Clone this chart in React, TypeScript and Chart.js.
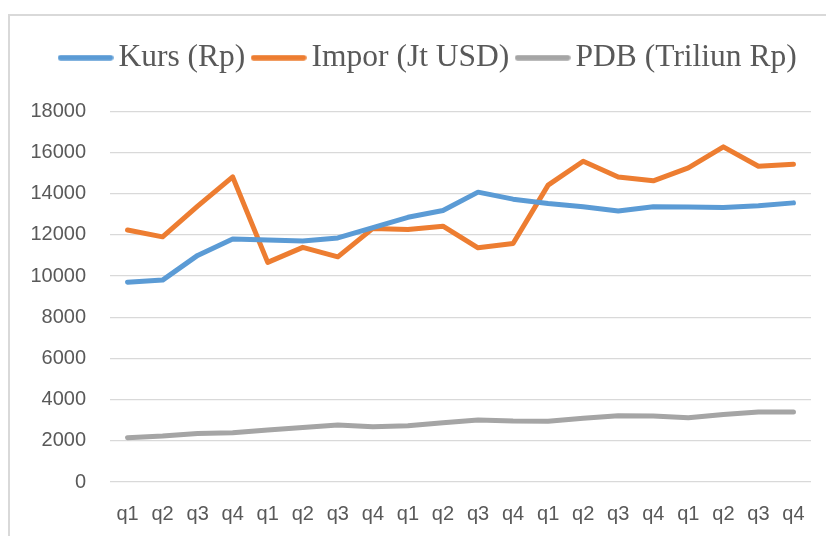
import React, { useEffect, useRef } from 'react';
import { Chart, registerables } from 'chart.js';

Chart.register(...registerables);

const categories = [
  'q1', 'q2', 'q3', 'q4',
  'q1', 'q2', 'q3', 'q4',
  'q1', 'q2', 'q3', 'q4',
  'q1', 'q2', 'q3', 'q4',
  'q1', 'q2', 'q3', 'q4',
];

const kursValues = [
  9700, 9800, 11000, 11800, 11750, 11700, 11850, 12350, 12850, 13180,
  14070, 13730, 13520, 13360, 13160, 13360, 13350, 13330, 13410, 13550,
];

const imporValues = [
  12230, 11900, 13390, 14810, 10660, 11390, 10930, 12310, 12260, 12420,
  11370, 11580, 14410, 15570, 14810, 14620, 15250, 16270, 15330, 15430,
];

const pdbValues = [
  2150, 2230, 2360, 2390, 2520, 2650, 2770, 2680, 2730, 2880,
  3010, 2960, 2950, 3090, 3220, 3200, 3120, 3280, 3400, 3400,
];

const seriesNames = ['Kurs (Rp)', 'Impor (Jt USD)', 'PDB (Triliun Rp)'];
const seriesColors = ['#5B9BD5', '#ED7D31', '#A5A5A5'];

const yMin = 0;
const yMax = 18000;
const yStep = 2000;

const textColor = '#595959';
const gridColor = '#d9d9d9';

function makeLegendLine(color: string): HTMLCanvasElement {
  const c = document.createElement('canvas');
  c.width = 56;
  c.height = 6;
  const ctx = c.getContext('2d')!;
  ctx.strokeStyle = color;
  ctx.lineWidth = 5.5;
  ctx.lineCap = 'round';
  ctx.beginPath();
  ctx.moveTo(3, 3);
  ctx.lineTo(53, 3);
  ctx.stroke();
  return c;
}

const legendShift = {
  id: 'legendShift',
  afterLayout(chart: any) {
    const l = chart.legend;
    if (l) {
      l.left += 13;
      l.right += 13;
    }
  },
};

export default function App() {
  const canvasRef = useRef<HTMLCanvasElement | null>(null);

  useEffect(() => {
    if (!canvasRef.current) return;
    const legendImages = seriesColors.map(makeLegendLine);
    const valuesList = [kursValues, imporValues, pdbValues];

    const chart = new Chart(canvasRef.current, {
      type: 'line',
      data: {
        labels: categories,
        datasets: seriesNames.map((name, i) => ({
          label: name,
          data: valuesList[i],
          borderColor: seriesColors[i],
          backgroundColor: seriesColors[i],
          borderWidth: 5,
          borderCapStyle: 'round',
          borderJoinStyle: 'round',
          pointRadius: 0,
          pointHoverRadius: 0,
          tension: 0,
        })),
      },
      plugins: [legendShift],
      options: {
        responsive: false,
        animation: false,
        devicePixelRatio: 1,
        layout: { padding: { left: 28, right: 15, top: 26, bottom: 10 } },
        plugins: {
          legend: {
            display: true,
            position: 'top',
            align: 'center',
            labels: {
              usePointStyle: true,
              pointStyleWidth: 34.5,
              padding: 16,
              color: textColor,
              font: { family: "'Liberation Serif', 'Times New Roman', serif", size: 31.5 },
              generateLabels: (chart: any) => {
                const items = Chart.defaults.plugins.legend.labels.generateLabels(chart);
                return items.map((it: any, i: number) => ({
                  ...it,
                  pointStyle: legendImages[i],
                  fontColor: textColor,
                }));
              },
            },
          },
          title: {
            display: true,
            text: '',
            weight: 500,
            padding: { top: 0, bottom: 26.5 },
            font: { size: 1 },
          },
          tooltip: { enabled: false },
        },
        scales: {
          x: {
            offset: true,
            grid: { display: false },
            border: { display: false },
            ticks: {
              color: textColor,
              font: { family: "'Liberation Sans', Arial, sans-serif", size: 20 },
              padding: 12,
              maxRotation: 0,
              autoSkip: false,
            },
            afterFit: (s: any) => {
              s.height = 44;
            },
          },
          y: {
            min: yMin,
            max: yMax,
            grid: { color: gridColor, lineWidth: 1.3, drawTicks: false },
            border: { display: false },
            ticks: {
              stepSize: yStep,
              padding: 24,
              color: textColor,
              font: { family: "'Liberation Sans', Arial, sans-serif", size: 20 },
              callback: (v: any) => String(v),
            },
            afterFit: (s: any) => {
              s.width = 82;
            },
          },
        },
      } as any,
    });

    return () => chart.destroy();
  }, []);

  return (
    <div
      style={{
        position: 'fixed',
        left: 0,
        top: 0,
        width: 826,
        height: 536,
        overflow: 'hidden',
        background: '#ffffff',
      }}
    >
      <div
        style={{
          position: 'absolute',
          left: 8,
          top: 14,
          width: 900,
          height: 600,
          borderTop: '2px solid #d9d9d9',
          borderLeft: '2px solid #d9d9d9',
        }}
      />
      <canvas
        ref={canvasRef}
        width={826}
        height={536}
        style={{ position: 'absolute', left: 0, top: 0, width: 826, height: 536 }}
      />
    </div>
  );
}
